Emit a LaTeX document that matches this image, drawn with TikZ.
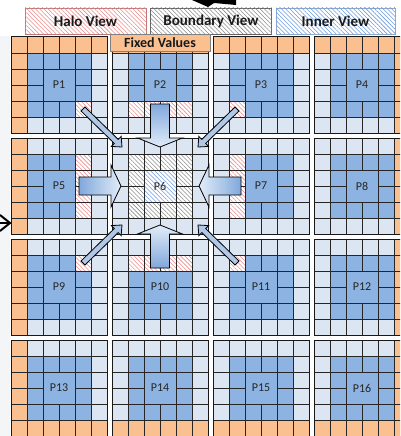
\documentclass[tikz,border=0pt]{standalone}
\usepackage{fontspec}
\setmainfont{Carlito}
\usetikzlibrary{calc,patterns.meta}
\definecolor{lightcell}{RGB}{220,230,242}
\definecolor{darkcell}{RGB}{141,179,226}
\definecolor{orangecell}{RGB}{250,192,144}
\definecolor{halostripe}{RGB}{234,140,140}
\definecolor{haloborder}{RGB}{190,120,120}
\definecolor{bndstripe}{RGB}{140,140,140}
\definecolor{bndborder}{RGB}{100,100,100}
\definecolor{innstripe}{RGB}{110,155,222}
\definecolor{innborder}{RGB}{140,168,205}
\definecolor{arrowlight}{RGB}{226,236,248}
\definecolor{arrowdark}{RGB}{128,168,220}
\definecolor{thinarrow}{RGB}{176,200,232}
\definecolor{margin}{RGB}{244,245,247}
\newcommand\fatarrow[6]{%
  \coordinate (fh) at ($(#2)!#5!(#1)$);
  \path[#6] ($(#1)!#3!90:(#2)$) -- ($(fh)!#3!90:(#2)$) -- ($(fh)!#4!90:(#2)$) -- (#2)
    -- ($(fh)!#4!-90:(#2)$) -- ($(fh)!#3!-90:(#2)$) -- ($(#1)!#3!-90:(#2)$) -- cycle;
}
\begin{document}
\begin{tikzpicture}[x=1pt,y=-1pt,
  cellline/.style={draw=black!85, line width=0.7pt},
  blockline/.style={draw=black!90, line width=1pt},
  halofill/.style={fill=white, postaction={pattern={Lines[angle=-45,distance=3pt,line width=0.55pt]}, pattern color=halostripe}},
  bndfill/.style={fill=white, postaction={pattern={Lines[angle=-45,distance=3pt,line width=0.55pt]}, pattern color=bndstripe}},
  innfill/.style={fill=white, postaction={pattern={Lines[angle=-45,distance=3pt,line width=0.55pt]}, pattern color=innstripe}},
  legendbox/.style={minimum width=121pt, minimum height=26pt, inner sep=0pt, line width=0.8pt, font=\fontsize{15}{18}\selectfont\bfseries, text=black!90},
  fixedbox/.style={fill=orangecell, draw=black!50, line width=0.6pt, minimum width=100pt, minimum height=17pt, inner sep=0pt, font=\fontsize{14}{16}\selectfont\bfseries, text=black!90},
  plabel/.style={inner sep=0pt, font=\fontsize{12}{14}\selectfont, text=black!85},
  bigarrow/.style={draw=black, line width=0.8pt, line join=miter},
  smallarrow/.style={draw=black, fill=thinarrow, line width=0.8pt, line join=miter}]
\useasboundingbox (0,0) rectangle (400,436);
\clip (0,0) rectangle (400,436);
\fill[white] (0,0) rectangle (400,436);
\fill[margin] (0,36) rectangle (10,436);
% block fills
\foreach \i in {0,...,3}{\foreach \j in {0,...,3}{
  \pgfmathsetmacro{\xa}{11+101*\i}
  \pgfmathsetmacro{\ya}{37+101*\j}
  \fill[lightcell] (\xa,\ya) rectangle ++(96,96);
  \fill[darkcell] (\xa+16,\ya+16) rectangle ++(64,64);
}}
% fixed value border cells
\foreach \i in {0,...,3}{
  \fill[orangecell] (11+101*\i,37) rectangle ++(96,16);
  \fill[orangecell] (11+101*\i,420) rectangle ++(96,16);
}
\foreach \j in {0,...,3}{
  \fill[orangecell] (11,37+101*\j) rectangle ++(16,96);
  \fill[orangecell] (394,37+101*\j) rectangle ++(16,96);
}
% P6 boundary and inner views
\path[bndfill] (128,154) rectangle (192,218);
\path[innfill] (144,170) rectangle (176,202);
% halo cells in neighbours
\path[halofill] (75,101) rectangle ++(16,16);
\path[halofill] (128,101) rectangle ++(64,16);
\path[halofill] (229,101) rectangle ++(16,16);
\path[halofill] (75,154) rectangle ++(16,64);
\path[halofill] (229,154) rectangle ++(16,64);
\path[halofill] (75,255) rectangle ++(16,16);
\path[halofill] (128,255) rectangle ++(64,16);
\path[halofill] (229,255) rectangle ++(16,16);
% grid lines and labels
\foreach \i in {0,...,3}{\foreach \j in {0,...,3}{
  \pgfmathsetmacro{\xa}{11+101*\i}
  \pgfmathsetmacro{\ya}{37+101*\j}
  \pgfmathtruncatemacro{\n}{4*\j+\i+1}
  \begin{scope}[shift={(\xa,\ya)}]
    \foreach \k in {16,32,64,80}{
      \draw[cellline] (\k,0) -- (\k,96);
      \draw[cellline] (0,\k) -- (96,\k);
    }
    \draw[cellline] (48,0) -- (48,32) (48,64) -- (48,96);
    \draw[cellline] (0,48) -- (32,48) (64,48) -- (96,48);
    \draw[blockline] (0,0) rectangle (96,96);
  \end{scope}
  \node[plabel] (p\n) at (\xa+48,\ya+48) {P\n};
}}
% legend
\node[legendbox, halofill, draw=haloborder] (halo) at (85.5,21) {Halo View};
\node[legendbox, bndfill, draw=bndborder] (boundary) at (211,21) {Boundary View};
\node[legendbox, innfill, draw=innborder, minimum width=119pt] (inner) at (335.5,21) {Inner View};
\node[fixedbox] (fixed) at (160,42.5) {Fixed Values};
% arrows toward P6
\coordinate (dT) at (160,104); \coordinate (dH) at (160,147);
\coordinate (uT) at (160,268); \coordinate (uH) at (160,225);
\coordinate (rT) at (79,186);  \coordinate (rH) at (121,186);
\coordinate (lT) at (241,186); \coordinate (lH) at (199,186);
\fatarrow{dT}{dH}{9.5pt}{22.5pt}{9pt}{bigarrow, top color=arrowdark, bottom color=arrowlight}
\fatarrow{uT}{uH}{9.5pt}{22.5pt}{9pt}{bigarrow, top color=arrowlight, bottom color=arrowdark}
\fatarrow{rT}{rH}{9pt}{21pt}{10pt}{bigarrow, left color=arrowdark, right color=arrowlight}
\fatarrow{lT}{lH}{9pt}{21pt}{10pt}{bigarrow, left color=arrowlight, right color=arrowdark}
\coordinate (a1T) at (83,109);  \coordinate (a1H) at (122,147);
\coordinate (a3T) at (237,109); \coordinate (a3H) at (198,147);
\coordinate (a9T) at (83,263);  \coordinate (a9H) at (122,225);
\coordinate (a11T) at (237,263); \coordinate (a11H) at (198,225);
\fatarrow{a1T}{a1H}{2.8pt}{7pt}{8pt}{smallarrow}
\fatarrow{a3T}{a3H}{2.8pt}{7pt}{8pt}{smallarrow}
\fatarrow{a9T}{a9H}{2.8pt}{7pt}{8pt}{smallarrow}
\fatarrow{a11T}{a11H}{2.8pt}{7pt}{8pt}{smallarrow}
% partly visible arrows at the edges
\coordinate (tA) at (192,0); \coordinate (tB) at (208,7); \coordinate (tC) at (236,5);
\fill[black] (tA) -- (tB) -- (214,3) -- (tC) -- (236,0) -- cycle;
\coordinate (lA) at (0,223); \coordinate (lB) at (10,223);
\draw[line width=2pt] (0,215) -- (lB) -- (0,231);
\draw[line width=1.2pt] (lA) -- (lB);
\end{tikzpicture}
\end{document}
